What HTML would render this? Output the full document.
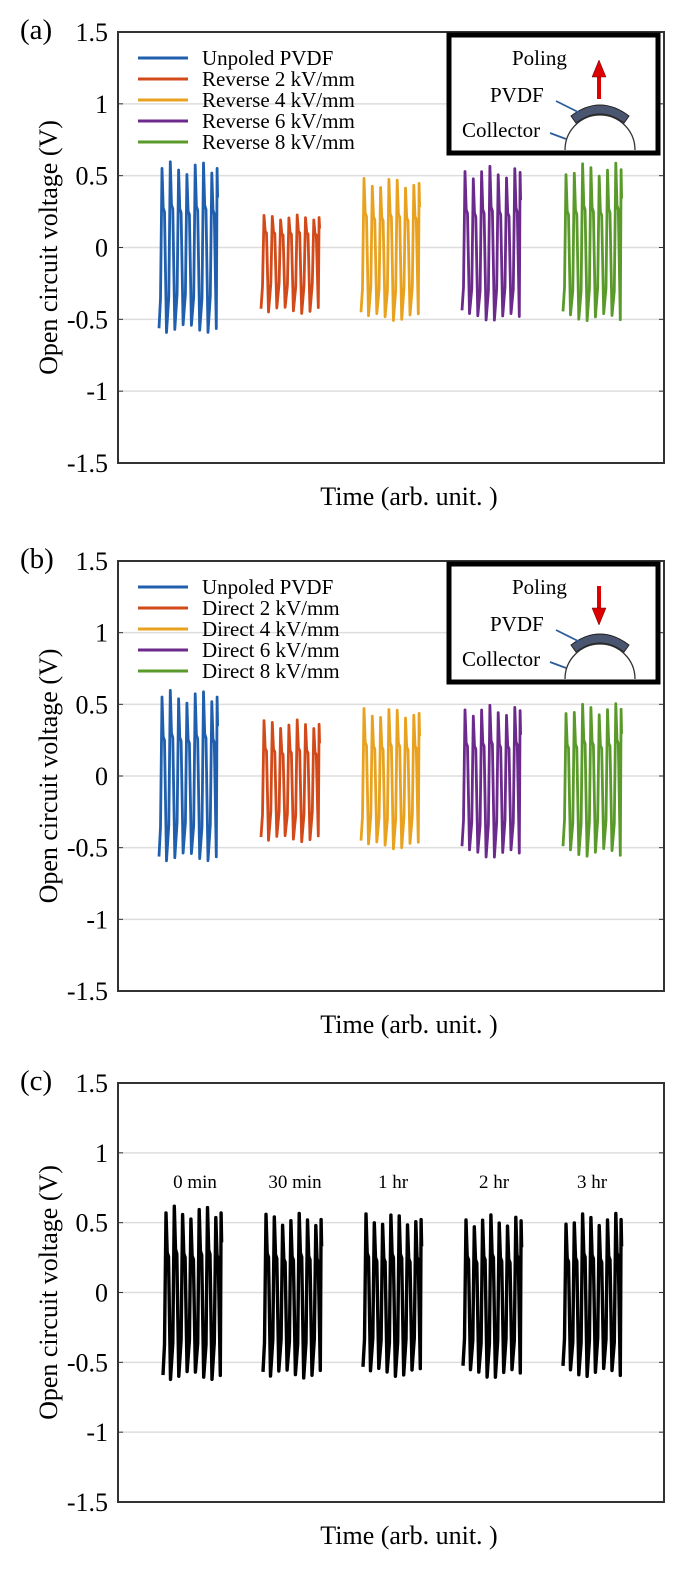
<!DOCTYPE html>
<html><head><meta charset="utf-8"><style>
html,body{margin:0;padding:0;background:#fff;}
svg{display:block;font-family:"Liberation Serif",serif;}
</style></head><body>
<svg id="s" width="690" height="1581" viewBox="0 0 690 1581" xmlns="http://www.w3.org/2000/svg"></svg>
<script>
const S=document.getElementById('s');let h='';
const panels=[
 {lab:'(a)',top:32,bot:463,leg:['Unpoled PVDF','Reverse 2 kV/mm','Reverse 4 kV/mm','Reverse 6 kV/mm','Reverse 8 kV/mm'],up:true,
  g:[[162,'#1f5fad',.58,-.58],[264,'#d24a1a',.22,-.45],[364,'#e9a21f',.47,-.5],[465,'#6c2a8c',.55,-.5],[566,'#5a9a2a',.57,-.5]]},
 {lab:'(b)',top:561,bot:991,leg:['Unpoled PVDF','Direct 2 kV/mm','Direct 4 kV/mm','Direct 6 kV/mm','Direct 8 kV/mm'],up:false,
  g:[[162,'#1f5fad',.58,-.58],[264,'#d24a1a',.38,-.45],[364,'#e9a21f',.46,-.5],[465,'#6c2a8c',.48,-.56],[566,'#5a9a2a',.49,-.55]]},
 {lab:'(c)',top:1083,bot:1502,leg:null,
  g:[[166,'#000',.6,-.61],[266,'#000',.55,-.6],[366,'#000',.55,-.59],[466,'#000',.54,-.6],[566,'#000',.55,-.59]]}
];
const L=118,R=664;
panels.forEach((p,pi)=>{
 const Y=v=>p.top+(1.5-v)/3*(p.bot-p.top);
 h+=`<text x="20" y="${p.top+7}" font-size="29">${p.lab}</text>`;
 [1.5,1,.5,0,-.5,-1,-1.5].forEach(v=>{
  const y=Y(v);
  if(v<1.5&&v>-1.5)h+=`<line x1="${L}" x2="${R}" y1="${y}" y2="${y}" stroke="#ddd" stroke-width="1.5"/><line x1="${L}" x2="${L+5}" y1="${y}" y2="${y}" stroke="#333"/><line x1="${R-5}" x2="${R}" y1="${y}" y2="${y}" stroke="#333"/>`;
  h+=`<text x="108" y="${y+9}" font-size="26" text-anchor="end">${v===0?'0':String(v)}</text>`;
 });
 h+=`<rect x="${L}" y="${p.top}" width="${R-L}" height="${p.bot-p.top}" fill="none" stroke="#333" stroke-width="2"/>`;
 const cy=(p.top+p.bot)/2;
 h+=`<text transform="translate(57 ${cy}) rotate(-90)" font-size="26" text-anchor="middle">Open circuit voltage (V)</text>`;
 h+=`<text x="409" y="${p.bot+42}" font-size="26" text-anchor="middle">Time (arb. unit. )</text>`;
 p.g.forEach(([x0,c,mx,mn],gi)=>{
  let d='';const pitch=8.3;
  for(let i=0;i<7;i++){
   const x=x0+i*pitch, vm=mx*(0.95+0.08*Math.sin(i*1.7+gi)), vn=mn*(0.97+0.05*Math.cos(i*1.3+gi));
   d+=(i==0?`M${x-3},${Y(vn*0.95)} `:'')+`L${x-1.5},${Y(vn*0.6)} L${x},${Y(vm)} L${x+1.2},${Y(vm*0.5)} L${x+2.5},${Y(vm*0.45)} L${x+4.5},${Y(vn)} `;
  }
  const xe=x0+7*pitch-3; d+=`L${xe},${Y(mx*0.95)} L${xe+0.5},${Y(mx*0.6)}`;
  h+=`<path d="${d}" fill="none" stroke="${c}" stroke-width="${pi==2?3.4:2.8}" stroke-linejoin="round"/>`;
 });
 if(p.leg){
  p.leg.forEach((t,i)=>{const y=p.top+26+i*21;
   h+=`<line x1="138" x2="188" y1="${y}" y2="${y}" stroke="${p.g[i][1]}" stroke-width="3"/><text x="202" y="${y+7}" font-size="21">${t}</text>`;});
  const b=p.top+3;
  h+=`<rect x="449" y="${b}" width="209" height="118" fill="#fff" stroke="#000" stroke-width="5"/>`;
  h+=`<text x="512" y="${b+30}" font-size="21">Poling</text><text x="490" y="${b+67}" font-size="21">PVDF</text><text x="462" y="${b+102}" font-size="21">Collector</text>`;
  const cx=600,cb=b+115;
  h+=`<path d="M${cx-35},${cb} A35,35 0 0 1 ${cx+35},${cb}" fill="#fff" stroke="#333" stroke-width="1.3"/>`;
  h+=`<path d="M${cx-29},${cb-34} Q${cx},${cb-56} ${cx+29},${cb-34} L${cx+24},${cb-27} Q${cx},${cb-45} ${cx-24},${cb-27} Z" fill="#4a5670" stroke="#222"/>`;
  h+=`<line x1="556" y1="${b+66}" x2="580" y2="${b+78}" stroke="#2d5d9a" stroke-width="1.8"/><line x1="550" y1="${b+98}" x2="566" y2="${b+104}" stroke="#2d5d9a" stroke-width="1.8"/>`;
  if(p.up) h+=`<line x1="599" y1="${b+64}" x2="599" y2="${b+40}" stroke="#d00" stroke-width="4"/><polygon points="592,${b+42} 606,${b+42} 599,${b+25}" fill="#d00" stroke="#600" stroke-width=".5"/>`;
  else h+=`<line x1="599" y1="${b+22}" x2="599" y2="${b+46}" stroke="#d00" stroke-width="4"/><polygon points="592,${b+44} 606,${b+44} 599,${b+61}" fill="#d00" stroke="#600" stroke-width=".5"/>`;
 } else {
  [['0 min',195],['30 min',295],['1 hr',393],['2 hr',494],['3 hr',592]].forEach(([t,x])=>h+=`<text x="${x}" y="1188" font-size="19" text-anchor="middle">${t}</text>`);
 }
});
S.innerHTML=h;
</script>
</body></html>
